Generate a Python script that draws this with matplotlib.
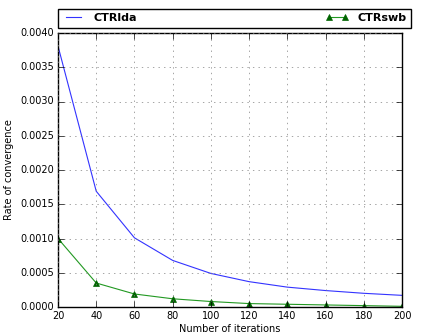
import matplotlib
matplotlib.use('Agg')
import matplotlib.pyplot as plt

plt.style.use('classic')

# iterations and convergence rates
iterations = [20, 40, 60, 80, 100, 120, 140, 160, 180, 200]
ctr_lda = [0.00381, 0.00169, 0.00101, 0.00068, 0.00049, 0.00037, 0.00029, 0.00024, 0.00020, 0.00017]
ctr_swb = [0.00100, 0.00035, 0.00019, 0.00012, 0.00008, 0.00005, 0.00004, 0.00003, 0.00002, 0.00001]

fig = plt.figure(figsize=(4.21, 3.33), dpi=100)
ax = fig.add_axes([58 / 421, 26 / 333, 344 / 421, 274 / 333])

ax.plot(iterations, ctr_lda, color='#3333ff', linewidth=0.8, label='CTRlda')
ax.plot(iterations, ctr_swb, color='#229922', linewidth=0.8, marker='^',
        markersize=4, markerfacecolor='darkgreen', markeredgecolor='darkgreen',
        label='CTRswb')

ax.set_xlim(20, 200)
ax.set_ylim(0, 0.004)
ax.set_xticks(range(20, 201, 20))
ax.set_yticks([i * 0.0005 for i in range(9)])
ax.set_yticklabels(['%.4f' % (i * 0.0005) for i in range(9)])
ax.tick_params(labelsize=7, pad=3)
ax.grid(True, linestyle=':', color='gray')

ax.set_xlabel('Number of iterations', fontsize=7, labelpad=2)
ax.set_ylabel('Rate of convergence', fontsize=7, labelpad=4)

ax.legend(bbox_to_anchor=(0., 1.02, 1.025, 0.07), loc='lower left', ncol=2,
          mode='expand', borderaxespad=0., numpoints=2,
          prop={'weight': 'bold', 'size': 8}, fancybox=False)

fig.savefig('out.png', dpi=100)
